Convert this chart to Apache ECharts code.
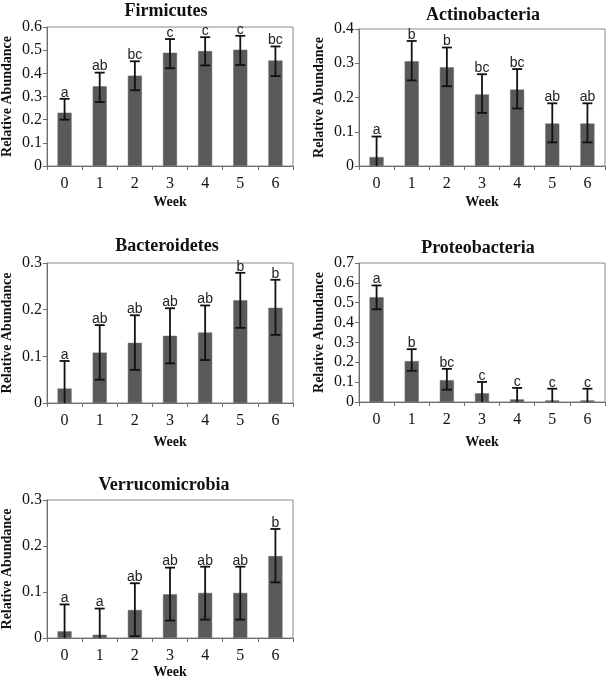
<!DOCTYPE html>
<html>
<head>
<meta charset="utf-8">
<script src="https://cdn.jsdelivr.net/npm/echarts@6/dist/echarts.min.js"></script>
<style>
html,body{margin:0;padding:0;background:#fff;}
#chart{width:607px;height:680px;}
</style>
</head>
<body>
<div id="chart"></div>
<script>
// ---- data ----
const weeks = ['0', '1', '2', '3', '4', '5', '6'];

const firmicutesMean   = [0.230, 0.344, 0.390, 0.489, 0.496, 0.502, 0.455];
const firmicutesUpper  = [0.290, 0.403, 0.452, 0.548, 0.556, 0.562, 0.516];
const firmicutesLower  = [0.200, 0.276, 0.327, 0.422, 0.434, 0.436, 0.388];
const firmicutesLetters = ['a', 'ab', 'bc', 'c', 'c', 'c', 'bc'];

const actinoMean   = [0.026, 0.306, 0.288, 0.209, 0.223, 0.124, 0.124];
const actinoUpper  = [0.086, 0.365, 0.346, 0.268, 0.283, 0.183, 0.183];
const actinoLower  = [0.000, 0.250, 0.233, 0.155, 0.168, 0.069, 0.069];
const actinoLetters = ['a', 'b', 'b', 'bc', 'bc', 'ab', 'ab'];

const bacteroMean   = [0.031, 0.108, 0.129, 0.144, 0.151, 0.220, 0.204];
const bacteroUpper  = [0.090, 0.167, 0.188, 0.203, 0.209, 0.279, 0.264];
const bacteroLower  = [0.000, 0.050, 0.071, 0.085, 0.092, 0.161, 0.146];
const bacteroLetters = ['a', 'ab', 'ab', 'ab', 'ab', 'b', 'b'];

const proteoMean   = [0.528, 0.206, 0.110, 0.044, 0.013, 0.008, 0.008];
const proteoUpper  = [0.587, 0.266, 0.167, 0.101, 0.071, 0.067, 0.067];
const proteoLower  = [0.467, 0.157, 0.062, 0.000, 0.000, 0.000, 0.000];
const proteoLetters = ['a', 'b', 'bc', 'c', 'c', 'c', 'c'];

const verruMean   = [0.0145, 0.007, 0.061, 0.095, 0.098, 0.098, 0.178];
const verruUpper  = [0.073, 0.064, 0.119, 0.153, 0.155, 0.155, 0.237];
const verruLower  = [0.000, 0.000, 0.004, 0.038, 0.040, 0.040, 0.121];
const verruLetters = ['a', 'a', 'ab', 'ab', 'ab', 'ab', 'b'];

const panelTitles = ['Firmicutes', 'Actinobacteria', 'Bacteroidetes', 'Proteobacteria', 'Verrucomicrobia'];
const yMaxes = [0.6, 0.4, 0.3, 0.7, 0.3];
const xAxisName = 'Week';
const yAxisName = 'Relative Abundance';

// ---- layout / style ----
const panels = [
  {mean: firmicutesMean, up: firmicutesUpper, lo: firmicutesLower, letters: firmicutesLetters},
  {mean: actinoMean, up: actinoUpper, lo: actinoLower, letters: actinoLetters},
  {mean: bacteroMean, up: bacteroUpper, lo: bacteroLower, letters: bacteroLetters},
  {mean: proteoMean, up: proteoUpper, lo: proteoLower, letters: proteoLetters},
  {mean: verruMean, up: verruUpper, lo: verruLower, letters: verruLetters}
];
const grids = [
  {left: 47, top: 27, width: 246, height: 139},
  {left: 359, top: 29, width: 246, height: 137},
  {left: 47, top: 263, width: 246, height: 140},
  {left: 359, top: 263, width: 246, height: 139},
  {left: 47, top: 500, width: 246, height: 138}
];
const weekGaps = [29, 29, 32, 33, 27];
const titlePos = [
  {x: 166, y: 2}, {x: 483, y: 6}, {x: 167, y: 237}, {x: 478, y: 239}, {x: 164, y: 476}
];

const SERIF = '"Liberation Serif", "Times New Roman", serif';
const SANS = '"Liberation Sans", Arial, sans-serif';
const barColor = '#595959';
const axisColor = '#6e6e6e';

const chart = echarts.init(document.getElementById('chart'), null, {renderer: 'canvas'});

const option = {
  backgroundColor: '#fff',
  animation: false,
  title: panelTitles.map((t, i) => ({
    text: t,
    left: titlePos[i].x,
    top: titlePos[i].y,
    textAlign: 'center',
    padding: 0,
    textStyle: {fontFamily: SERIF, fontWeight: 'bold', fontSize: 18, color: '#111'}
  })),
  grid: grids.map(g => Object.assign({
    show: true, borderColor: '#8a8a8a', borderWidth: 1, backgroundColor: 'transparent',
    containLabel: false, outerBoundsMode: 'none'
  }, g)),
  xAxis: grids.map((g, i) => ({
    type: 'category',
    gridIndex: i,
    data: weeks,
    name: xAxisName,
    nameLocation: 'middle',
    nameGap: weekGaps[i],
    nameTextStyle: {fontFamily: SERIF, fontWeight: 'bold', fontSize: 14, color: '#111'},
    axisLine: {lineStyle: {color: axisColor, width: 1}},
    axisTick: {show: true, length: 4, lineStyle: {color: axisColor}},
    axisLabel: {fontFamily: SERIF, fontSize: 16, color: '#111', margin: 10},
    splitLine: {show: false}
  })),
  yAxis: grids.map((g, i) => ({
    type: 'value',
    gridIndex: i,
    min: 0,
    max: yMaxes[i],
    interval: 0.1,
    name: yAxisName,
    nameLocation: 'middle',
    nameGap: 33,
    nameTextStyle: {fontFamily: SERIF, fontWeight: 'bold', fontSize: 14, color: '#111'},
    axisLine: {show: true, lineStyle: {color: axisColor, width: 1}},
    axisTick: {show: true, length: 4, lineStyle: {color: axisColor}},
    axisLabel: {fontFamily: SERIF, fontSize: 16, color: '#111', margin: 5,
      formatter: v => String(Math.round(v * 10) / 10)},
    splitLine: {show: false}
  })),
  series: []
};

panels.forEach((p, i) => {
  option.series.push({
    type: 'bar',
    xAxisIndex: i,
    yAxisIndex: i,
    data: p.mean,
    barWidth: '40%',
    itemStyle: {color: barColor, borderColor: '#6a6a6a', borderWidth: 0.5}
  });
  option.series.push({
    type: 'custom',
    xAxisIndex: i,
    yAxisIndex: i,
    data: p.mean.map((m, k) => [k, p.lo[k], p.up[k]]),
    z: 5,
    renderItem: function (params, api) {
      const x = api.value(0);
      const lo = api.value(1);
      const hi = api.value(2);
      const pHi = api.coord([x, hi]);
      const pLo = api.coord([x, lo]);
      const half = 5;
      const st = {stroke: '#111', lineWidth: 1.8};
      const children = [
        {type: 'line', shape: {x1: pHi[0], y1: pHi[1], x2: pLo[0], y2: pLo[1]}, style: st},
        {type: 'line', shape: {x1: pHi[0] - half, y1: pHi[1], x2: pHi[0] + half, y2: pHi[1]}, style: st}
      ];
      if (lo > 0) {
        children.push({type: 'line', shape: {x1: pLo[0] - half, y1: pLo[1], x2: pLo[0] + half, y2: pLo[1]}, style: st});
      }
      children.push({
        type: 'text',
        x: pHi[0],
        y: pHi[1] + 1,
        style: {
          text: p.letters[params.dataIndex],
          textAlign: 'center',
          textVerticalAlign: 'bottom',
          font: '14px ' + SANS,
          fill: '#222'
        }
      });
      return {type: 'group', children: children};
    }
  });
});

chart.setOption(option);
</script>
</body>
</html>
